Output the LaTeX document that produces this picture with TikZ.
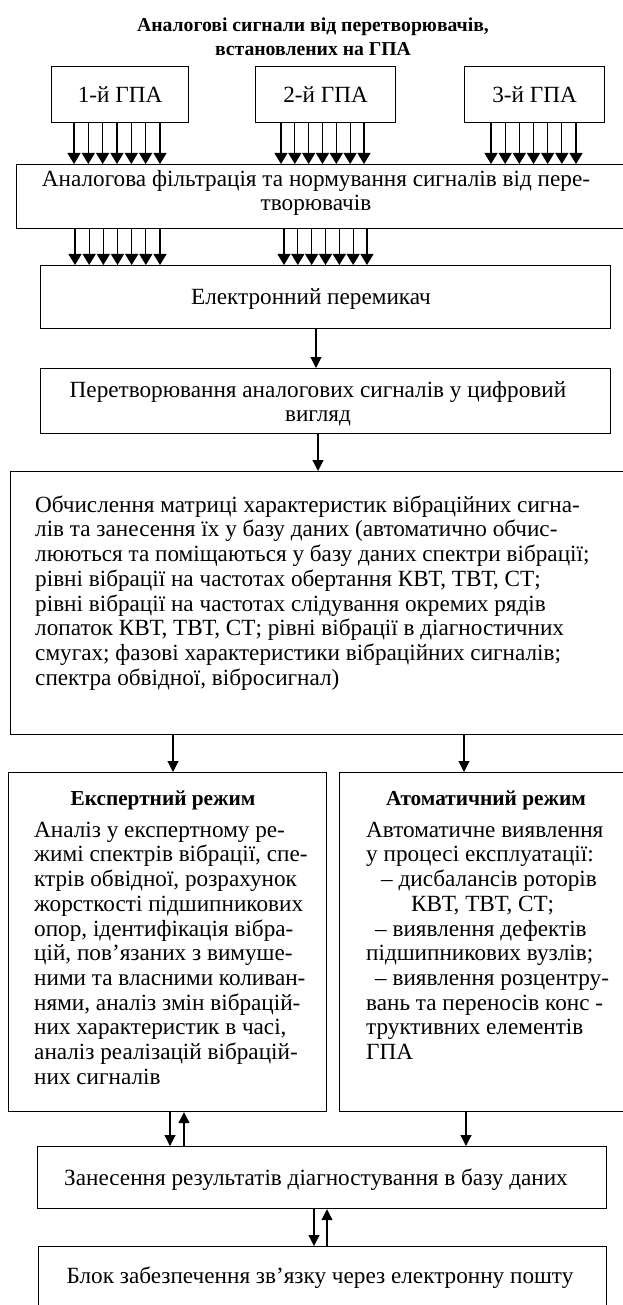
\documentclass[tikz,border=0pt]{standalone}
\usepackage{fontspec}
\setmainfont{Liberation Serif}
\usetikzlibrary{arrows.meta}
\begin{document}
\begin{tikzpicture}[x=1pt,y=-1pt,
  box/.style={draw, line width=1.2pt, anchor=north west, inner sep=0pt},
  txt/.style={inner sep=0pt, anchor=north, align=center, font=\fontsize{23.2}{24.7}\selectfont},
  ltxt/.style={inner sep=0pt, anchor=north west, align=left, font=\fontsize{23.2}{24.7}\selectfont},
  btxt/.style={inner sep=0pt, anchor=north, align=center, font=\bfseries\fontsize{19.7}{24}\selectfont},
  hbtxt/.style={inner sep=0pt, anchor=north, align=center, font=\bfseries\fontsize{21.3}{24}\selectfont},
  arr/.style={line width=1.1pt, -{Triangle[length=11pt,width=11pt]}},
  multi/.style={line width=1.1pt, -{Triangle[length=11pt,width=13pt]}},
]
\useasboundingbox (0,0) rectangle (623,1305);
\fill[white] (0,0) rectangle (623,1305);
\clip (0,0) rectangle (623,1305);

% title
\node[btxt] (title) at (313,14) {\rule{0pt}{17pt}Аналогові сигнали від перетворювачів,\\встановлених на ГПА};

% GPA boxes
\node[box, minimum width=137pt, minimum height=56pt, font=\fontsize{23.2}{24.7}\selectfont] (g1) at (51,66) {1-й ГПА};
\node[box, minimum width=140pt, minimum height=56pt, font=\fontsize{23.2}{24.7}\selectfont] (g2) at (255,66) {2-й ГПА};
\node[box, minimum width=140pt, minimum height=56pt, font=\fontsize{23.2}{24.7}\selectfont] (g3) at (464,66) {3-й ГПА};

% filter box
\node[box, minimum width=624pt, minimum height=64pt] (filt) at (16,164) {};
\node[txt] (filtt) at (316,168) {\rule{0pt}{18pt}Аналогова фільтрація та нормування сигналів від пере-\\творювачів};

% switch
\node[box, minimum width=570pt, minimum height=63pt] (sw) at (40,265) {};
\node[txt] (swt) at (311,286) {\rule{0pt}{18pt}Електронний перемикач};

% conversion
\node[box, minimum width=570pt, minimum height=65pt] (conv) at (40,368) {};
\node[txt] (convt) at (318,379) {\rule{0pt}{18pt}Перетворювання аналогових сигналів у цифровий\\вигляд};

% calculation
\node[box, minimum width=630pt, minimum height=263pt] (calc) at (10,471) {};
\node[ltxt] (calct) at (35,494) {\rule{0pt}{18pt}Обчислення матриці характеристик вібраційних сигна-\\
лів та занесення їх у базу даних (автоматично обчис-\\
люються та поміщаються у базу даних спектри вібрації;\\
рівні вібрації на частотах обертання КВТ, ТВТ, СТ;\\
рівні вібрації на частотах слідування окремих рядів\\
лопаток КВТ, ТВТ, СТ; рівні вібрації в діагностичних\\
смугах; фазові характеристики вібраційних сигналів;\\
спектра обвідної, вібросигнал)};

% expert
\node[box, minimum width=318pt, minimum height=339pt] (exp) at (8,772) {};
\node[hbtxt] (expt) at (163,788) {\rule{0pt}{17pt}Експертний режим};
\node[ltxt] (expb) at (34,819) {\rule{0pt}{18pt}Аналіз у експертному ре-\\
жимі спектрів вібрації, спе-\\
ктрів обвідної, розрахунок\\
жорсткості підшипникових\\
опор, ідентифікація вібра-\\
цій, пов'язаних з вимуше-\\
ними та власними коливан-\\
нями, аналіз змін вібрацій-\\
них характеристик в часі,\\
аналіз реалізацій вібрацій-\\
них сигналів};

% automatic
\node[box, minimum width=301pt, minimum height=339pt] (auto) at (339,772) {};
\node[hbtxt] (autot) at (486,788) {\rule{0pt}{17pt}Атоматичний режим};
\node[ltxt] (autob) at (366,819) {\rule{0pt}{18pt}Автоматичне виявлення\\
у процесі експлуатації:\\
\hspace*{15pt}– дисбалансів роторів\\
\hspace*{45pt}КВТ, ТВТ, СТ;\\
\hspace*{9pt}– виявлення дефектів\\
підшипникових вузлів;\\
\hspace*{9pt}– виявлення розцентру-\\
вань та переносів конс -\\
труктивних елементів\\
ГПА};

% database
\node[box, minimum width=569pt, minimum height=62pt] (zan) at (37,1146) {};
\node[txt] (zant) at (316,1167) {\rule{0pt}{18pt}Занесення результатів діагностування в базу даних};

% mail
\node[box, minimum width=568pt, minimum height=80pt] (blok) at (38,1246) {};
\node[txt] (blokt) at (320,1265) {\rule{0pt}{18pt}Блок забезпечення зв'язку через електронну пошту};

% arrows GPA -> filter
\foreach \i in {0,...,6} {
  \draw[multi] ({74+14.33*\i},0 |- g1.south) -- ({74+14.33*\i},0 |- filt.north);
  \draw[multi] ({281+13.83*\i},0 |- g2.south) -- ({281+13.83*\i},0 |- filt.north);
  \draw[multi] ({491+14.17*\i},0 |- g3.south) -- ({491+14.17*\i},0 |- filt.north);
  \draw[multi] ({75+14.17*\i},0 |- filt.south) -- ({75+14.17*\i},0 |- sw.north);
  \draw[multi] ({284+13.83*\i},0 |- filt.south) -- ({284+13.83*\i},0 |- sw.north);
}

\draw[arr] (316,0 |- sw.south) -- (316,0 |- conv.north);
\draw[arr] (318,0 |- conv.south) -- (318,0 |- calc.north);
\draw[arr] (173,0 |- calc.south) -- (173,0 |- exp.north);
\draw[arr] (464,0 |- calc.south) -- (464,0 |- auto.north);
\draw[arr] (170,0 |- exp.south) -- (170,0 |- zan.north);
\draw[arr] (184,0 |- zan.north) -- (184,0 |- exp.south);
\draw[arr] (466,0 |- auto.south) -- (466,0 |- zan.north);
\draw[arr] (314,0 |- zan.south) -- (314,0 |- blok.north);
\draw[arr] (327,0 |- blok.north) -- (327,0 |- zan.south);
\end{tikzpicture}
\end{document}
